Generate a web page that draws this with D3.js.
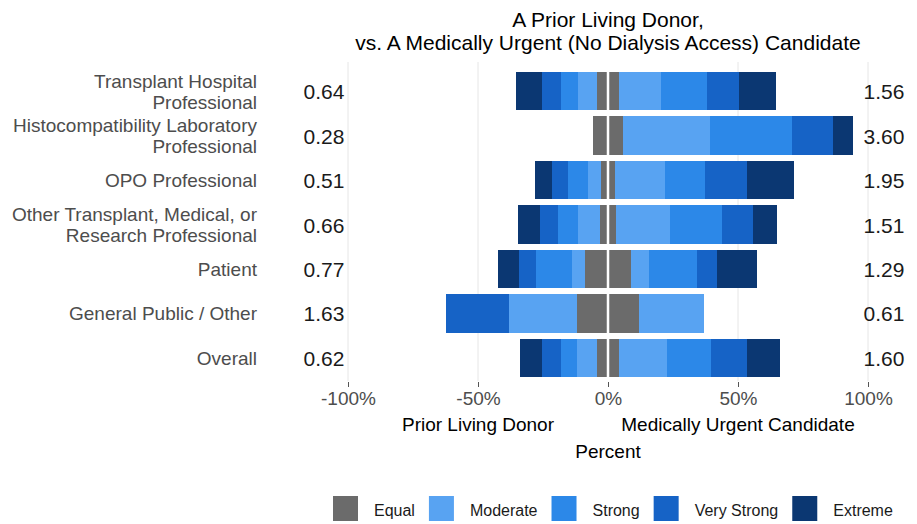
<!DOCTYPE html>
<html>
<head>
<meta charset="utf-8">
<script src="https://cdn.jsdelivr.net/npm/d3@7"></script>
<style>
  body { margin: 0; background: #fff; }
  text { font-family: "Liberation Sans", Arial, sans-serif; }
</style>
</head>
<body>
<div id="chart"></div>
<script>
// categories (top to bottom)
var categories = [
    "Transplant Hospital|Professional",
    "Histocompatibility Laboratory|Professional",
    "OPO Professional",
    "Other Transplant, Medical, or|Research Professional",
    "Patient",
    "General Public / Other",
    "Overall"
];
var leftRatio = ["0.64", "0.28", "0.51", "0.66", "0.77", "1.63", "0.62"];
var rightRatio = ["1.56", "3.60", "1.95", "1.51", "1.29", "0.61", "1.60"];

var levels = ["Equal", "Moderate", "Strong", "Very Strong", "Extreme"];
var levelColors = ["#6b6b6b", "#58a3f2", "#2c88e8", "#1663c6", "#0b3772"];

// percent of respondents; "Equal" is split half each side of zero
var equal = [8.8, 11.6, 5.4, 6.2, 17.7, 24.2, 8.8];
var donorModerate = [7.3, 0, 5.0, 8.5, 5.0, 25.8, 7.7];
var donorStrong = [6.2, 0, 7.7, 7.7, 13.8, 0, 5.8];
var donorVeryStrong = [7.3, 0, 6.2, 6.9, 6.5, 24.6, 7.3];
var donorExtreme = [10.0, 0, 6.5, 8.5, 8.1, 0, 8.5];
var urgentModerate = [16.0, 33.5, 19.2, 20.8, 7.0, 25.0, 18.1];
var urgentStrong = [17.7, 31.5, 15.4, 20.0, 18.5, 0, 17.3];
var urgentVeryStrong = [12.3, 15.8, 16.2, 11.9, 7.7, 0, 13.5];
var urgentExtreme = [14.2, 7.7, 18.1, 9.2, 15.4, 0, 12.7];

var xTicks = [-100, -50, 0, 50, 100];

var width = 917, height = 524;
var svg = d3.select("#chart").append("svg")
    .attr("width", width)
    .attr("height", height);

var x = d3.scaleLinear().domain([-100, 100]).range([348, 868]);
var y = d3.scaleBand().domain(categories).range([69, 380])
    .paddingInner(0.133).paddingOuter(0.066);
var color = d3.scaleOrdinal().domain(levels).range(levelColors);

// build segments
var segs = [];
categories.forEach(function (c, i) {
    var half = equal[i] / 2;
    var left = [["Equal", half], ["Moderate", donorModerate[i]], ["Strong", donorStrong[i]],
        ["Very Strong", donorVeryStrong[i]], ["Extreme", donorExtreme[i]]];
    var right = [["Equal", half], ["Moderate", urgentModerate[i]], ["Strong", urgentStrong[i]],
        ["Very Strong", urgentVeryStrong[i]], ["Extreme", urgentExtreme[i]]];
    var pos = 0;
    left.forEach(function (s) {
        if (s[1] > 0) segs.push({ cat: c, level: s[0], x0: -pos - s[1], x1: -pos });
        pos += s[1];
    });
    pos = 0;
    right.forEach(function (s) {
        if (s[1] > 0) segs.push({ cat: c, level: s[0], x0: pos, x1: pos + s[1] });
        pos += s[1];
    });
});

// grid
svg.append("g").selectAll("line")
    .data(xTicks)
    .enter().append("line")
    .attr("x1", function (d) { return x(d); })
    .attr("x2", function (d) { return x(d); })
    .attr("y1", 62).attr("y2", 381)
    .attr("stroke", "#e6e6e6")
    .attr("stroke-width", 1);

svg.append("g").selectAll("rect")
    .data(segs)
    .enter().append("rect")
    .attr("x", function (d) { return x(d.x0); })
    .attr("width", function (d) { return x(d.x1) - x(d.x0); })
    .attr("y", function (d) { return y(d.cat); })
    .attr("height", y.bandwidth())
    .attr("fill", function (d) { return color(d.level); })
    .attr("shape-rendering", "crispEdges");

// white split at zero
svg.append("line")
    .attr("x1", x(0)).attr("x2", x(0))
    .attr("y1", 62).attr("y2", 381)
    .attr("stroke", "#fff").attr("stroke-width", 2.5);

// x axis
var xAxis = svg.append("g")
    .attr("transform", "translate(0,382)")
    .call(d3.axisBottom(x).tickValues(xTicks).tickSize(5).tickPadding(5)
        .tickFormat(function (d) { return d + "%"; }));
xAxis.select(".domain").remove();
xAxis.selectAll("line").attr("stroke", "#555");
xAxis.selectAll("text").attr("fill", "#4d4d4d").style("font-size", "19px");

// category labels
var catLab = svg.append("g").selectAll("text")
    .data(categories)
    .enter().append("text")
    .attr("x", 257)
    .attr("text-anchor", "end")
    .attr("fill", "#4d4d4d")
    .style("font-size", "19px");
catLab.each(function (d) {
    var lines = d.split("|");
    var cy = y(d) + y.bandwidth() / 2;
    var t = d3.select(this);
    lines.forEach(function (l, k) {
        t.append("tspan")
            .attr("x", 257)
            .attr("y", cy + 7 + (k - (lines.length - 1) / 2) * 21)
            .text(l);
    });
});

// ratio labels
svg.append("g").selectAll("text")
    .data(leftRatio)
    .enter().append("text")
    .attr("x", 324)
    .attr("y", function (d, i) { return y(categories[i]) + y.bandwidth() / 2 + 8; })
    .attr("text-anchor", "middle")
    .style("font-size", "21px")
    .attr("fill", "#1a1a1a")
    .text(function (d) { return d; });
svg.append("g").selectAll("text")
    .data(rightRatio)
    .enter().append("text")
    .attr("x", 884)
    .attr("y", function (d, i) { return y(categories[i]) + y.bandwidth() / 2 + 8; })
    .attr("text-anchor", "middle")
    .style("font-size", "21px")
    .attr("fill", "#1a1a1a")
    .text(function (d) { return d; });

// titles
svg.append("text").attr("x", 608).attr("y", 27).attr("text-anchor", "middle")
    .style("font-size", "21px").text("A Prior Living Donor,");
svg.append("text").attr("x", 608).attr("y", 50).attr("text-anchor", "middle")
    .style("font-size", "21px").text("vs. A Medically Urgent (No Dialysis Access) Candidate");

svg.append("text").attr("x", x(-50)).attr("y", 431).attr("text-anchor", "middle")
    .style("font-size", "19px").text("Prior Living Donor");
svg.append("text").attr("x", x(50)).attr("y", 431).attr("text-anchor", "middle")
    .style("font-size", "19px").text("Medically Urgent Candidate");
svg.append("text").attr("x", x(0)).attr("y", 458).attr("text-anchor", "middle")
    .style("font-size", "19px").text("Percent");

// legend
var lx = 331;
levels.forEach(function (l) {
    svg.append("rect")
        .attr("x", lx + 2).attr("y", 496)
        .attr("width", 25).attr("height", 25)
        .attr("fill", color(l));
    var t = svg.append("text")
        .attr("x", lx + 43).attr("y", 516)
        .style("font-size", "16px")
        .attr("fill", "#1a1a1a")
        .text(l);
    lx = lx + 43 + t.node().getComputedTextLength() + 12;
});
</script>
</body>
</html>
